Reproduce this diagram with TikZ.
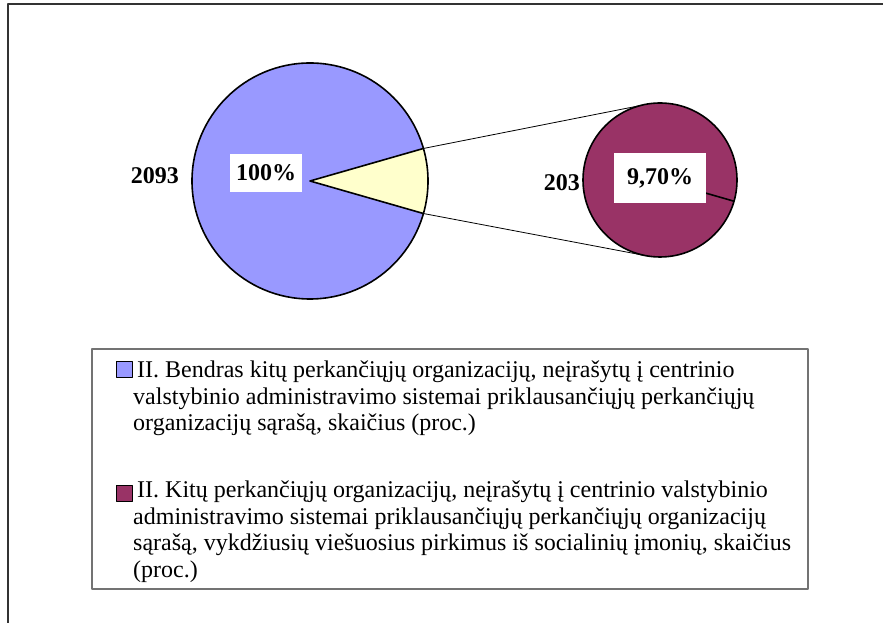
\documentclass[tikz,border=0pt]{standalone}
\usepackage{fontspec}
\setmainfont{Liberation Serif}
\usepackage{tikz}
\usetikzlibrary{positioning, calc}

\definecolor{pieblue}{HTML}{9999FF}
\definecolor{pieyellow}{HTML}{FFFFCC}
\definecolor{piewine}{HTML}{993366}

\begin{document}
\begin{tikzpicture}[x=1pt, y=1pt, line join=round]
\useasboundingbox (0,0) rectangle (883,623);
\tikzset{pieline/.style={draw=black, line width=1.6pt}}
\tikzset{valbox/.style={fill=white, font=\fontsize{24}{28}\selectfont\bfseries, inner sep=0pt}}
\tikzset{legtext/.style={font=\fontsize{24}{26.5}\selectfont, align=left, inner sep=0pt, anchor=north west}}
\tikzset{legkey/.style={draw=black, line width=1.4pt, minimum size=15.5pt, inner sep=0pt}}

% chart frame
\draw[line width=1.5pt, black!80] (8,0) -- (8,619) -- (883,619);

% big pie
\coordinate (bigc) at (310,442);
\coordinate (wtop) at ($(bigc)+(16:118)$);
\coordinate (wbot) at ($(bigc)+(-16:118)$);
\fill[pieblue] (bigc) circle (118);
\fill[pieyellow] (bigc) -- (wbot) arc (-16:16:118) -- cycle;
\draw[pieline] (bigc) circle (118);
\draw[pieline] (wtop) -- (bigc) -- (wbot);

% small pie
\coordinate (smc) at (660,443);
\coordinate (stop) at ($(smc)+(105:77)$);
\coordinate (sbot) at ($(smc)+(-100:77)$);
\fill[piewine] (smc) circle (77);
\draw[pieline] (smc) circle (77);
\draw[pieline] (smc) -- ($(smc)+(-16:77)$);

% joining lines
\draw[line width=0.8pt] (wtop) -- (stop);
\draw[line width=0.8pt] (wbot) -- (sbot);

% value labels
\node[valbox, anchor=east] (n2093) at (179,447) {2093};
\node[valbox, minimum width=72pt, minimum height=38pt] (p100) at (266,450) {100\%};
\node[valbox, anchor=east, fill=none] (n203) at (580,440) {203};
\node[valbox, minimum width=92pt, minimum height=50pt] (p970) at (660,445) {9,70\%};

% legend
\draw[line width=1.2pt, black!55] (92,34) rectangle (808,274);
\node[legkey, fill=pieblue] (keyA) at (124.5,253.5) {};
\node[legkey, fill=piewine] (keyB) at (124.5,129.5) {};
\node[legtext] (legA) at (133,262) {\hspace*{4pt}II. Bendras kitų perkančiųjų organizacijų, neįrašytų į centrinio\\
  valstybinio administravimo sistemai priklausančiųjų perkančiųjų\\
  organizacijų sąrašą, skaičius (proc.)};
\node[legtext] (legB) at (133,142) {\hspace*{4pt}II. Kitų perkančiųjų organizacijų, neįrašytų į centrinio valstybinio\\
  administravimo sistemai priklausančiųjų perkančiųjų organizacijų\\
  sąrašą, vykdžiusių viešuosius pirkimus iš socialinių įmonių, skaičius\\
  (proc.)};
\end{tikzpicture}
\end{document}
